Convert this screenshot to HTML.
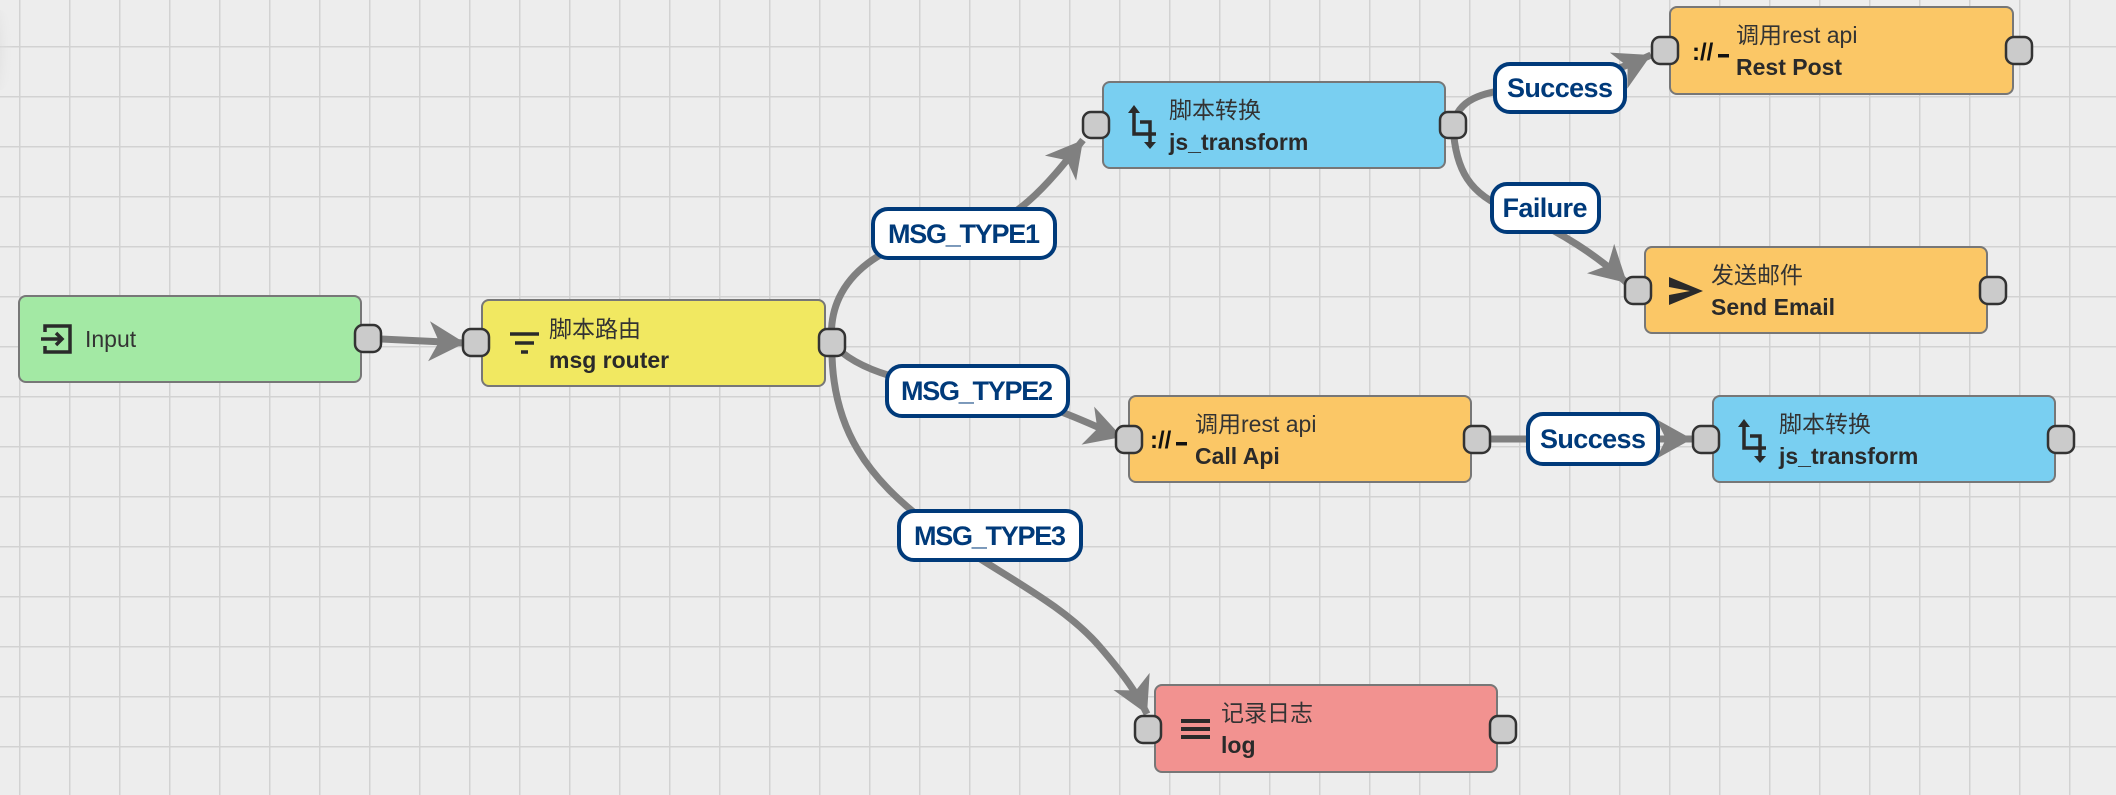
<!DOCTYPE html>
<html><head><meta charset="utf-8"><style>
html,body{margin:0;padding:0;background:#ededed;}
svg{display:block;}
.t1{font-family:"Liberation Sans","Noto Sans CJK SC",sans-serif;font-size:23px;fill:#333;}
.t2{font-family:"Liberation Sans","Noto Sans CJK SC",sans-serif;font-size:23px;fill:#2a2a2a;font-weight:bold;}
.lb{font-family:"Liberation Sans",sans-serif;font-size:27px;font-weight:bold;fill:#003a7a;}
.node{stroke:#777;stroke-width:2;}
.port{fill:#cbcbcb;stroke:#333;stroke-width:2.5;}
.edge{fill:none;stroke:#808080;stroke-width:7;}
.lbl{fill:#fff;stroke:#003a7a;stroke-width:4;}
</style></head><body>
<svg width="2116" height="795" viewBox="0 0 2116 795" xmlns="http://www.w3.org/2000/svg">
<defs>
<pattern id="g" x="19" y="46" width="50" height="50" patternUnits="userSpaceOnUse">
<path d="M0,0 V50 M0,0 H50" stroke="#d2d2d2" stroke-width="3" fill="none"/>
</pattern>
<marker id="a" markerUnits="userSpaceOnUse" markerWidth="40" markerHeight="44" viewBox="-36 -22 40 44" refX="0" refY="0" orient="auto">
<path d="M0,0 L-36,-20 L-26,0 L-36,20 Z" fill="#808080"/>
</marker>
<radialGradient id="sh" cx="0" cy="0.5" r="1"><stop offset="0" stop-color="#ccc"/><stop offset="1" stop-color="#ededed" stop-opacity="0"/></radialGradient>
</defs>
<rect width="2116" height="795" fill="#ededed"/>
<rect width="2116" height="795" fill="url(#g)"/>
<ellipse cx="0" cy="50" rx="14" ry="40" fill="url(#sh)"/>

<!-- edges -->
<path class="edge" d="M381,339 L465,343" marker-end="url(#a)"/>
<path class="edge" d="M832,343 C825,275 890,236 963,232 C1015,229 1055,175 1083,140" marker-end="url(#a)"/>
<path class="edge" d="M832,343 C860,375 920,385 977,391 C1045,398 1095,428 1122,437" marker-end="url(#a)"/>
<path class="edge" d="M832,343 C830,430 870,480 930,525 C990,570 1060,600 1100,647 C1125,676 1138,695 1147,714" marker-end="url(#a)"/>
<path class="edge" d="M1453,125 C1458,100 1480,92 1520,88 C1580,82 1620,70 1651,55" marker-end="url(#a)"/>
<path class="edge" d="M1453,125 C1455,170 1470,195 1510,210 C1560,230 1600,258 1627,283" marker-end="url(#a)"/>
<path class="edge" d="M1477,439 L1692,439" marker-end="url(#a)"/>

<!-- nodes -->
<rect class="node" x="19" y="296" width="342" height="86" rx="7" fill="#a3e9a4"/>
<rect class="node" x="482" y="300" width="343" height="86" rx="7" fill="#f1e861"/>
<rect class="node" x="1103" y="82" width="342" height="86" rx="7" fill="#79cff1"/>
<rect class="node" x="1670" y="7" width="343" height="87" rx="7" fill="#fbc766"/>
<rect class="node" x="1645" y="247" width="342" height="86" rx="7" fill="#fbc766"/>
<rect class="node" x="1129" y="396" width="342" height="86" rx="7" fill="#fbc766"/>
<rect class="node" x="1713" y="396" width="342" height="86" rx="7" fill="#79cff1"/>
<rect class="node" x="1155" y="685" width="342" height="87" rx="7" fill="#f29290"/>

<!-- ports -->
<rect class="port" x="355" y="325" width="26" height="27" rx="8"/>
<rect class="port" x="463" y="329" width="26" height="27" rx="8"/>
<rect class="port" x="819" y="329" width="26" height="27" rx="8"/>
<rect class="port" x="1083" y="112" width="26" height="26" rx="8"/>
<rect class="port" x="1440" y="112" width="26" height="26" rx="8"/>
<rect class="port" x="1652" y="37" width="26" height="27" rx="8"/>
<rect class="port" x="2006" y="37" width="26" height="27" rx="8"/>
<rect class="port" x="1625" y="277" width="26" height="27" rx="8"/>
<rect class="port" x="1980" y="277" width="26" height="27" rx="8"/>
<rect class="port" x="1116" y="426" width="26" height="27" rx="8"/>
<rect class="port" x="1464" y="426" width="26" height="27" rx="8"/>
<rect class="port" x="1693" y="426" width="26" height="27" rx="8"/>
<rect class="port" x="2048" y="426" width="26" height="27" rx="8"/>
<rect class="port" x="1135" y="716" width="26" height="27" rx="8"/>
<rect class="port" x="1490" y="716" width="26" height="27" rx="8"/>

<!-- icons -->
<g fill="none" stroke="#2a2a2a" stroke-width="3.5">
<path d="M45,332 V326 H70 V352 H45 V346"/>
<path d="M41,339 H62 M56,333 L62,339 L56,345"/>
<path d="M510,334 H539 M515,343 H534 M521,352 H528"/>
<path d="M1134,112 V134 H1156 M1140,122 H1150 V143"/>
<path d="M1744,426 V448 H1766 M1750,436 H1760 V457"/>
<path d="M1181,721 H1210 M1181,729 H1210 M1181,737 H1210" stroke-width="4"/>
</g>
<g fill="#2a2a2a">
<path d="M1128,113 L1134,105 L1140,113 Z"/><path d="M1144,142 L1150,149 L1156,142 Z"/>
<path d="M1738,427 L1744,419 L1750,427 Z"/><path d="M1754,456 L1760,463 L1766,456 Z"/>
<path d="M1669,277 L1703,291 L1669,305 L1669,295 L1690,291 L1669,287 Z"/>
</g>
<g font-family="Liberation Sans,sans-serif" font-weight="bold" font-size="24" fill="#111">
<text x="1692" y="60">://</text><rect x="1718" y="54" width="11" height="3.5" fill="#111"/>
<text x="1150" y="448">://</text><rect x="1176" y="442" width="11" height="3.5" fill="#111"/>
</g>

<!-- node text -->
<text class="t1" x="85" y="347">Input</text>
<text class="t1" x="549" y="337">脚本路由</text><text class="t2" x="549" y="368">msg router</text>
<text class="t1" x="1169" y="118">脚本转换</text><text class="t2" x="1169" y="150">js_transform</text>
<text class="t1" x="1736" y="43">调用rest api</text><text class="t2" x="1736" y="75">Rest Post</text>
<text class="t1" x="1711" y="283">发送邮件</text><text class="t2" x="1711" y="315">Send Email</text>
<text class="t1" x="1195" y="432">调用rest api</text><text class="t2" x="1195" y="464">Call Api</text>
<text class="t1" x="1779" y="432">脚本转换</text><text class="t2" x="1779" y="464">js_transform</text>
<text class="t1" x="1221" y="721">记录日志</text><text class="t2" x="1221" y="753">log</text>

<!-- labels -->
<rect class="lbl" x="873" y="209" width="182" height="49" rx="15"/>
<text class="lb" x="964" y="243" text-anchor="middle" textLength="152">MSG_TYPE1</text>
<rect class="lbl" x="887" y="366" width="181" height="50" rx="15"/>
<text class="lb" x="977" y="400" text-anchor="middle" textLength="152">MSG_TYPE2</text>
<rect class="lbl" x="899" y="511" width="182" height="49" rx="15"/>
<text class="lb" x="990" y="545" text-anchor="middle" textLength="152">MSG_TYPE3</text>
<rect class="lbl" x="1495" y="64" width="130" height="48" rx="15"/>
<text class="lb" x="1560" y="97" text-anchor="middle" textLength="106">Success</text>
<rect class="lbl" x="1492" y="184" width="107" height="48" rx="15"/>
<text class="lb" x="1545" y="217" text-anchor="middle" textLength="85">Failure</text>
<rect class="lbl" x="1528" y="414" width="130" height="50" rx="15"/>
<text class="lb" x="1593" y="448" text-anchor="middle" textLength="106">Success</text>
</svg>
</body></html>
